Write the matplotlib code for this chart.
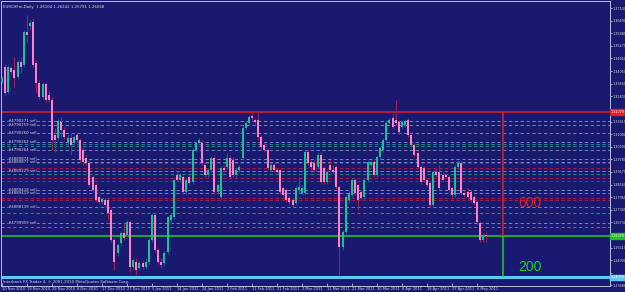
import numpy as np
import pandas as pd
import matplotlib
matplotlib.use("Agg")
import matplotlib.pyplot as plt

# EURCHFm daily bars (MT4 with Sunday bars)
opens = [1.3352, 1.3425, 1.3304, 1.3420, 1.3410, 1.3376, 1.3449, 1.3434, 1.3594, 1.3623,
         1.3643, 1.3444, 1.3347, 1.3280, 1.3342, 1.3289, 1.3265, 1.3096, 1.3081, 1.3159,
         1.3120, 1.3057, 1.3081, 1.3057, 1.3096, 1.3071, 1.3023, 1.2984, 1.2960, 1.2892,
         1.2854, 1.2796, 1.2771, 1.2781, 1.2781, 1.2733, 1.2587, 1.2524, 1.2573, 1.2621,
         1.2612, 1.2675, 1.2457, 1.2481, 1.2452, 1.2476, 1.2457, 1.2481, 1.2587, 1.2708,
         1.2539, 1.2481, 1.2476, 1.2529, 1.2684, 1.2699, 1.2902, 1.2878, 1.2892, 1.2820,
         1.2892, 1.2868, 1.3023, 1.3057, 1.3057, 1.2950, 1.2902, 1.2926, 1.2984, 1.2820,
         1.2796, 1.2936, 1.2941, 1.2984, 1.2975, 1.2902, 1.2926, 1.2984, 1.3129, 1.3154,
         1.3188, 1.3168, 1.3168, 1.3086, 1.3047, 1.3023, 1.2926, 1.2950, 1.2926, 1.2926,
         1.2839, 1.2829, 1.2791, 1.2781, 1.2766, 1.2829, 1.2815, 1.2815, 1.3013, 1.2965,
         1.2960, 1.2941, 1.2999, 1.2936, 1.2868, 1.2950, 1.2926, 1.2941, 1.2844, 1.2554,
         1.2626, 1.2781, 1.2805, 1.2878, 1.2854, 1.2820, 1.2796, 1.2878, 1.2950, 1.2965,
         1.2902, 1.2989, 1.3023, 1.3071, 1.3154, 1.3178, 1.3168, 1.3159, 1.3134, 1.3144,
         1.3168, 1.3096, 1.3047, 1.3008, 1.2941, 1.2936, 1.2878, 1.2863, 1.2757, 1.2917,
         1.2917, 1.2902, 1.2902, 1.2892, 1.2839, 1.2805, 1.2941, 1.2960, 1.2815, 1.2820,
         1.2820, 1.2796, 1.2771, 1.2670, 1.2587, 1.26104]
highs = [1.3381, 1.3439, 1.3434, 1.3430, 1.3473, 1.3459, 1.3473, 1.3604, 1.3676, 1.3652,
         1.3662, 1.3459, 1.3362, 1.3352, 1.3352, 1.3313, 1.3280, 1.3129, 1.3178, 1.3183,
         1.3134, 1.3096, 1.3105, 1.3096, 1.3105, 1.3081, 1.3038, 1.2999, 1.2975, 1.2902,
         1.2863, 1.2805, 1.2796, 1.2791, 1.2791, 1.2742, 1.2597, 1.2573, 1.2631, 1.2670,
         1.2684, 1.2684, 1.2500, 1.2500, 1.2486, 1.2491, 1.2495, 1.2597, 1.2718, 1.2718,
         1.2549, 1.2500, 1.2534, 1.2703, 1.2718, 1.2888, 1.2917, 1.2912, 1.2902, 1.2888,
         1.2902, 1.3033, 1.3067, 1.3081, 1.3071, 1.2965, 1.2936, 1.2994, 1.2999, 1.2863,
         1.2945, 1.2950, 1.3008, 1.2999, 1.2989, 1.2936, 1.2950, 1.3139, 1.3163, 1.3192,
         1.3202, 1.3178, 1.3217, 1.3096, 1.3057, 1.3033, 1.2960, 1.2960, 1.2936, 1.2936,
         1.2849, 1.2839, 1.2805, 1.2791, 1.2849, 1.2892, 1.2854, 1.3023, 1.3023, 1.2975,
         1.2975, 1.3008, 1.3013, 1.2945, 1.2926, 1.2975, 1.2950, 1.2950, 1.2854, 1.2636,
         1.2805, 1.2825, 1.2888, 1.2888, 1.2863, 1.2829, 1.2888, 1.2975, 1.2975, 1.2975,
         1.2999, 1.3042, 1.3081, 1.3163, 1.3178, 1.3202, 1.3265, 1.3168, 1.3168, 1.3173,
         1.3178, 1.3105, 1.3057, 1.3018, 1.2950, 1.2945, 1.2888, 1.2873, 1.2926, 1.2936,
         1.2950, 1.2917, 1.2912, 1.2902, 1.2849, 1.2950, 1.2975, 1.2975, 1.2829, 1.2839,
         1.2829, 1.2805, 1.2781, 1.2679, 1.2621, 1.26242]
lows = [1.3342, 1.3289, 1.3294, 1.3391, 1.3328, 1.3367, 1.3396, 1.3425, 1.3546, 1.3604,
        1.3425, 1.3299, 1.3270, 1.3270, 1.3255, 1.3255, 1.3023, 1.3013, 1.3071, 1.3086,
        1.3076, 1.3047, 1.2999, 1.3047, 1.3062, 1.2965, 1.2950, 1.2950, 1.2844, 1.2820,
        1.2771, 1.2762, 1.2762, 1.2747, 1.2684, 1.2578, 1.2442, 1.2510, 1.2558, 1.2587,
        1.2602, 1.2432, 1.2447, 1.2418, 1.2442, 1.2447, 1.2447, 1.2471, 1.2578, 1.2529,
        1.2471, 1.2452, 1.2462, 1.2520, 1.2665, 1.2689, 1.2868, 1.2868, 1.2810, 1.2810,
        1.2854, 1.2858, 1.3013, 1.3047, 1.2950, 1.2892, 1.2892, 1.2917, 1.2810, 1.2810,
        1.2786, 1.2917, 1.2931, 1.2883, 1.2892, 1.2892, 1.2917, 1.2975, 1.3120, 1.3144,
        1.3168, 1.3149, 1.3071, 1.3028, 1.3013, 1.2926, 1.2917, 1.2917, 1.2907, 1.2810,
        1.2796, 1.2771, 1.2762, 1.2747, 1.2757, 1.2815, 1.2805, 1.2805, 1.2950, 1.2926,
        1.2917, 1.2931, 1.2858, 1.2858, 1.2858, 1.2917, 1.2907, 1.2834, 1.2418, 1.2539,
        1.2616, 1.2771, 1.2796, 1.2805, 1.2733, 1.2781, 1.2786, 1.2868, 1.2941, 1.2892,
        1.2892, 1.2979, 1.3013, 1.3062, 1.3144, 1.3125, 1.3144, 1.3100, 1.3125, 1.3134,
        1.3086, 1.3038, 1.2989, 1.2931, 1.2858, 1.2868, 1.2844, 1.2747, 1.2747, 1.2892,
        1.2829, 1.2868, 1.2883, 1.2820, 1.2796, 1.2796, 1.2931, 1.2805, 1.2796, 1.2786,
        1.2771, 1.2757, 1.2665, 1.2578, 1.2578, 1.25791]
closes = [1.3371, 1.3299, 1.3425, 1.3401, 1.3371, 1.3449, 1.3425, 1.3594, 1.3580, 1.3638,
          1.3434, 1.3347, 1.3280, 1.3342, 1.3265, 1.3265, 1.3071, 1.3071, 1.3163, 1.3120,
          1.3086, 1.3081, 1.3047, 1.3086, 1.3071, 1.2975, 1.2965, 1.2960, 1.2854, 1.2829,
          1.2781, 1.2771, 1.2786, 1.2757, 1.2718, 1.2587, 1.2481, 1.2563, 1.2621, 1.2597,
          1.2675, 1.2457, 1.2491, 1.2442, 1.2476, 1.2457, 1.2481, 1.2587, 1.2708, 1.2539,
          1.2481, 1.2466, 1.2524, 1.2699, 1.2708, 1.2878, 1.2878, 1.2902, 1.2820, 1.2878,
          1.2863, 1.3023, 1.3057, 1.3071, 1.2960, 1.2902, 1.2926, 1.2984, 1.2820, 1.2854,
          1.2936, 1.2926, 1.2984, 1.2892, 1.2902, 1.2926, 1.2941, 1.3129, 1.3154, 1.3183,
          1.3178, 1.3159, 1.3086, 1.3038, 1.3023, 1.2936, 1.2950, 1.2926, 1.2917, 1.2820,
          1.2805, 1.2781, 1.2771, 1.2757, 1.2839, 1.2844, 1.2839, 1.3013, 1.2960, 1.2941,
          1.2926, 1.2999, 1.2868, 1.2868, 1.2917, 1.2926, 1.2917, 1.2844, 1.2554, 1.2626,
          1.2796, 1.2815, 1.2878, 1.2815, 1.2781, 1.2791, 1.2878, 1.2965, 1.2965, 1.2902,
          1.2989, 1.3033, 1.3071, 1.3154, 1.3168, 1.3134, 1.3154, 1.3110, 1.3159, 1.3163,
          1.3096, 1.3047, 1.2999, 1.2941, 1.2868, 1.2878, 1.2854, 1.2757, 1.2917, 1.2902,
          1.2839, 1.2878, 1.2892, 1.2829, 1.2805, 1.2941, 1.2960, 1.2815, 1.2805, 1.2796,
          1.2781, 1.2766, 1.2675, 1.2587, 1.2612, 1.26068]

# right-hand price scale
price_ticks = [1.37100, 1.36490, 1.35880, 1.35270, 1.34660, 1.34050, 1.33440, 1.32830,
               1.32220, 1.31610, 1.31000, 1.30390, 1.29780, 1.29170, 1.28560, 1.27950,
               1.27340, 1.26730, 1.26120, 1.25510, 1.24900, 1.24290, 1.23680]

# open sell orders (dash lines with their ticket labels)
order_levels = [1.3163, 1.3144, 1.3105, 1.3064, 1.3023, 1.2978, 1.2965, 1.2921,
                1.2829, 1.2816, 1.2746, 1.2671]
order_labels = ["#4790271 sell", "#4790259 sell", "#4790260 sell", "#4790262 sell",
                "#4790264 sell", "#4889874 sell", "#4889877 sell", "#4889229 sell",
                "#4889418 sell", "#4889419 sell", "#4888138 sell", "#4799959 sell"]
stop_levels = [1.2958, 1.2936, 1.2886, 1.2873, 1.2789, 1.2781]
teal_levels = [1.3051, 1.3042, 1.2907, 1.2717, 1.2652]

red_level = 1.3207
green_level = 1.2607
cyan_level = 1.2407

BG = "#191970"
FG = "#d8d8e8"

n = len(closes)
dates = pd.bdate_range("2010-11-10", periods=n, freq="C", weekmask="Sun Mon Tue Wed Thu Fri")
o = np.array(opens)
h = np.array(highs)
l = np.array(lows)
c = np.array(closes)
x = np.arange(n)
up = c >= o

fig = plt.figure(figsize=(6.25, 2.92), dpi=100, facecolor=BG)
ax = fig.add_axes([0.0016, 0.0205, 0.9744, 0.976], facecolor=BG)

# horizontal order / stop lines
for lv in order_levels:
    ax.axhline(lv, color="#7f97c9", lw=0.6, dashes=(4, 3), zorder=1)
for lv in teal_levels:
    ax.axhline(lv, color="#2f9a8a", lw=0.6, dashes=(4, 3), zorder=1)
for lv in stop_levels:
    ax.axhline(lv, color="#c0203a", lw=0.6, dashes=(4, 3), zorder=1)
for lv, lab in zip(order_levels, order_labels):
    ax.text(2, lv, lab, fontsize=2.8, color=FG, va="center", ha="left", zorder=4,
            bbox=dict(facecolor=BG, edgecolor="none", pad=0.2))

ax.axhline(red_level, color="#e02020", lw=1.1, zorder=1)
ax.axhline(green_level, color="#20d020", lw=1.1, zorder=1)
ax.axhline(cyan_level, color="#5ec8f2", lw=2.2, zorder=1)

# candles
ax.vlines(x[up], l[up], h[up], color="#2850b0", lw=0.8, zorder=2)
ax.vlines(x[~up], l[~up], h[~up], color="#9a2060", lw=0.8, zorder=2)
body = np.maximum(np.abs(c - o), 0.00015)
ax.bar(x[up], body[up], bottom=np.minimum(o, c)[up], width=0.62, color="#1fc08f", lw=0, zorder=3)
ax.bar(x[~up], body[~up], bottom=np.minimum(o, c)[~up], width=0.62, color="#ff80c4", lw=0, zorder=3)

# pip ruler
ruler_x = 160.3
ax.vlines(ruler_x, green_level, red_level, color="#e02020", lw=1.1, zorder=3)
ax.vlines(ruler_x, cyan_level, green_level, color="#20d020", lw=1.1, zorder=3)
ax.text(ruler_x + 5, (red_level + green_level) / 2 - 0.014,
        str(round((red_level - green_level) * 10000)), color="#e02020",
        fontsize=10, family="Liberation Sans", va="center", ha="left")
ax.text(ruler_x + 5, (green_level + cyan_level) / 2 - 0.0048,
        str(round((green_level - cyan_level) * 10000)), color="#20d020",
        fontsize=10, family="Liberation Sans", va="center", ha="left")

# header / footer texts
ax.text(0.004, 0.985, "EURCHFm,Daily  %.5f %.5f %.5f %.5f" % (o[-1], h[-1], l[-1], c[-1]),
        transform=ax.transAxes, fontsize=2.8, color=FG, va="top", ha="left")
ax.text(0.004, 0.006, "Interbank FX Trader 4, \u00a9 2001-2010 MetaQuotes Software Corp.",
        transform=ax.transAxes, fontsize=2.8, color=FG, va="bottom", ha="left")

ax.set_xlim(-0.3, -0.3 + 609 / 3.125)
ax.set_ylim(1.2365, 1.3744)

# price tags cover the scale labels they sit on
tags = [(red_level, "#e02020"), (green_level, "#20c020"), (cyan_level, "#5ec8f2")]
tick_text = []
for t in price_ticks:
    hidden = any(abs(t - lv) < 0.0025 for lv, _ in tags)
    tick_text.append("" if hidden else "%.5f" % t)

ax.yaxis.tick_right()
ax.set_yticks(price_ticks)
ax.set_yticklabels(tick_text)
ax.tick_params(axis="y", labelsize=2.4, colors=FG, length=1.2, width=0.5, pad=0.6)

tick_idx = list(range(0, n, 8))
ax.set_xticks(tick_idx)
ax.set_xticklabels([f"{d.day} {d:%b %Y}" for d in dates[tick_idx]], ha="left")
ax.tick_params(axis="x", labelsize=2.6, colors=FG, length=2, width=0.5, pad=0.5,
               direction="in")

for lv, col in tags:
    ax.annotate("%.5f" % lv, xy=(1.0, lv), xycoords=("axes fraction", "data"),
                xytext=(0.6, 0), textcoords="offset points", fontsize=2.4,
                color="white", va="center", ha="left", annotation_clip=False,
                bbox=dict(boxstyle="square,pad=0.2", facecolor=col, edgecolor=col))

for sp in ax.spines.values():
    sp.set_color("#b8c0e0")
    sp.set_linewidth(0.7)

fig.savefig("out.png", dpi=100, facecolor=BG)
